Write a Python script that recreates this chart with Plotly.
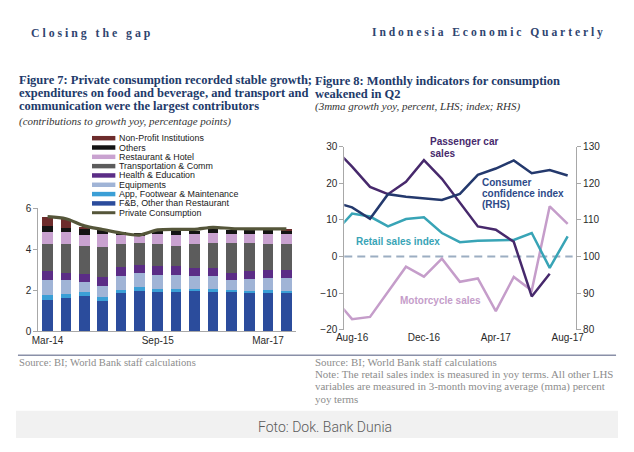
import plotly.graph_objects as go

# The page adds an 8px body margin around the figure, so the figure is sized to
# leave exactly that margin inside the 634x452 window.
PAGE_W, PAGE_H = 634, 452
OFF = 8
W, H = PAGE_W - 2 * OFF, PAGE_H - 2 * OFF


def px(x):
    # x in window pixels -> paper fraction
    return (x - OFF) / W


def py(y):
    # y in window pixels (from top) -> paper fraction
    return 1 - (y - OFF) / H


# ---------------- Figure 7 data (contributions, ppt) ----------------
quarters = ["Mar-14", "Jun-14", "Sep-14", "Dec-14", "Mar-15", "Jun-15", "Sep-15",
            "Dec-15", "Mar-16", "Jun-16", "Sep-16", "Dec-16", "Mar-17", "Jun-17"]
q_ticks = ["Mar-14", "Sep-15", "Mar-17"]
fnb = [1.54, 1.62, 1.73, 1.49, 1.86, 1.98, 1.89, 1.89, 1.94, 1.90, 1.90, 1.86, 1.86, 1.86]
apparel = [0.21, 0.21, 0.17, 0.19, 0.16, 0.16, 0.17, 0.16, 0.12, 0.16, 0.12, 0.12, 0.16, 0.12]
equipments = [0.77, 0.69, 0.51, 0.53, 0.68, 0.70, 0.70, 0.68, 0.62, 0.62, 0.50, 0.59, 0.58, 0.62]
health = [0.40, 0.34, 0.37, 0.44, 0.43, 0.41, 0.40, 0.43, 0.42, 0.42, 0.34, 0.37, 0.37, 0.37]
transport = [1.32, 1.38, 1.38, 1.46, 1.11, 1.04, 1.11, 1.00, 1.17, 1.22, 1.46, 1.38, 1.27, 1.27]
restaurant = [0.63, 0.59, 0.55, 0.64, 0.47, 0.38, 0.48, 0.55, 0.48, 0.47, 0.44, 0.44, 0.51, 0.52]
others = [0.27, 0.23, 0.31, 0.20, 0.16, 0.12, 0.15, 0.19, 0.15, 0.19, 0.19, 0.19, 0.20, 0.12]
npi = [0.45, 0.45, 0.06, 0.00, 0.00, 0.00, 0.00, 0.00, 0.00, 0.00, 0.00, 0.00, 0.00, 0.10]
private_cons = [5.60, 5.50, 5.15, 4.97, 4.80, 4.70, 4.95, 4.98, 4.98, 5.08, 5.02, 5.00, 5.00, 5.00]

# ---------------- Figure 8 data ----------------
months = ["Jul-16", "Aug-16", "Sep-16", "Oct-16", "Nov-16", "Dec-16", "Jan-17",
          "Feb-17", "Mar-17", "Apr-17", "May-17", "Jun-17", "Jul-17", "Aug-17"]
m_ticks = ["Aug-16", "Dec-16", "Apr-17", "Aug-17"]
car_sales = [29.6, 24.5, 19.0, 17.0, 20.4, 26.3, 21.2, 14.6, 8.2, 7.3, 4.0, -10.9, -4.7]
confidence = [114.8, 113.4, 110.3, 117.0, 116.3, 115.8, 115.4, 117.1, 122.3, 124.0,
              126.2, 122.7, 123.6, 122.1]
retail = [6.3, 11.7, 10.9, 8.2, 10.2, 10.7, 6.4, 3.9, 4.3, 4.3, 4.5, 6.4, -3.1, 5.5]
motorcycle = [-11.3, -17.1, -16.5, -9.5, -2.8, -5.5, -0.6, -6.9, -6.0, -14.9, -5.6,
              -9.3, 13.7, 8.9]

# ---------------- colours ----------------
C_FNB = "#2b4c9c"
C_APP = "#3b9fd6"
C_EQUIP = "#a0b4d6"
C_HEALTH = "#5b2d86"
C_TRANS = "#5c5c5c"
C_REST = "#c9a2d0"
C_OTH = "#141414"
C_NPI = "#6d2c2c"
C_PC = "#55563a"

C_CAR = "#47296c"
C_CCI = "#24396d"
C_RET = "#38a4b6"
C_MOTO = "#c59dca"

SANS = "Liberation Sans"
SERIF = "Liberation Serif"
NAVY = "#223a6a"

fig = go.Figure()

bar_series = [
    ("F&B, Other than Restaurant", fnb, C_FNB),
    ("App, Footwear & Maintenance", apparel, C_APP),
    ("Equipments", equipments, C_EQUIP),
    ("Health & Education", health, C_HEALTH),
    ("Transportation & Comm", transport, C_TRANS),
    ("Restaurant & Hotel", restaurant, C_REST),
    ("Others", others, C_OTH),
    ("Non-Profit Institutions", npi, C_NPI),
]
for name, vals, col in bar_series:
    fig.add_trace(go.Bar(x=quarters, y=vals, name=name, marker=dict(color=col, line=dict(width=0)),
                         xaxis="x", yaxis="y", showlegend=False))

fig.add_trace(go.Scatter(x=quarters, y=private_cons, mode="lines", name="Private Consumption",
                         line=dict(color=C_PC, width=3.2, shape="spline", smoothing=0.8),
                         xaxis="x", yaxis="y", showlegend=False))

# right chart
fig.add_trace(go.Scatter(x=months, y=motorcycle, mode="lines", name="Motorcycle sales",
                         line=dict(color=C_MOTO, width=2.5), xaxis="x2", yaxis="y2", showlegend=False))
fig.add_trace(go.Scatter(x=months, y=retail, mode="lines", name="Retail sales index",
                         line=dict(color=C_RET, width=2.5), xaxis="x2", yaxis="y2", showlegend=False))
fig.add_trace(go.Scatter(x=months, y=confidence, mode="lines", name="Consumer confidence index (RHS)",
                         line=dict(color=C_CCI, width=2.5), xaxis="x2", yaxis="y3", showlegend=False))
fig.add_trace(go.Scatter(x=months[:len(car_sales)], y=car_sales, mode="lines", name="Passenger car sales",
                         line=dict(color=C_CAR, width=2.5), xaxis="x2", yaxis="y2", showlegend=False))

tickfont = dict(family=SANS, size=10, color="#2a2a2a")
axcol = "#a8a8a8"

fig.update_layout(
    width=W, height=H,
    margin=dict(l=0, r=0, t=0, b=0),
    paper_bgcolor="white", plot_bgcolor="rgba(0,0,0,0)",
    barmode="stack", bargap=0.42,
    showlegend=False,
    xaxis=dict(domain=[px(31), px(295)], anchor="y", type="category", categoryarray=quarters,
               range=[-0.5, 13.5], tickvals=q_ticks, ticktext=q_ticks, ticks="",
               showline=True, linecolor=axcol, linewidth=1, showgrid=False, zeroline=False,
               tickfont=tickfont),
    yaxis=dict(domain=[py(334), py(208)], anchor="x", range=[0, 6], tickvals=[0, 2, 4, 6],
               showline=True, linecolor=axcol, linewidth=1, ticks="outside", ticklen=4,
               tickcolor=axcol, showgrid=False, zeroline=False, tickfont=tickfont),
    xaxis2=dict(domain=[px(345), px(583)], anchor="y2", type="category", categoryarray=months,
                range=[0.566, 13.47], tickvals=m_ticks, ticktext=m_ticks, ticks="",
                showline=False, showgrid=False, zeroline=False, tickfont=tickfont),
    yaxis2=dict(domain=[py(332.7), py(144.3)], anchor="x2", range=[-20, 30], dtick=10,
                showline=True, linecolor=axcol, linewidth=1, ticks="outside", ticklen=4,
                tickcolor=axcol, showgrid=False, zeroline=False, tickfont=tickfont),
    yaxis3=dict(anchor="x2", overlaying="y2", side="right", range=[80, 130], dtick=10,
                showline=True, linecolor=axcol, linewidth=1, ticks="outside", ticklen=4,
                tickcolor=axcol, showgrid=False, zeroline=False, tickfont=tickfont),
)

shapes = []
# dashed zero line on Figure 8
shapes.append(dict(type="line", xref="x2 domain", yref="y2", x0=0, x1=0.985, y0=0, y1=0,
                   line=dict(color="#9caec2", width=2, dash="8px,5px"), layer="below"))
# separator line
shapes.append(dict(type="line", xref="paper", yref="paper", x0=px(10), x1=px(624),
                   y0=py(359), y1=py(359), line=dict(color="#8a90a8", width=1.5)))
# bottom caption band
shapes.append(dict(type="rect", xref="paper", yref="paper", x0=0, x1=1, y0=0, y1=py(416),
                   fillcolor="#f1f1f1", line=dict(width=0), layer="below"))

annotations = []


def text(x, y, s, size, color, family=SANS, weight="normal", style="normal", xanchor="left",
         yanchor="middle"):
    annotations.append(dict(x=px(x), y=py(y), xref="paper", yref="paper", text=s, showarrow=False,
                            xanchor=xanchor, yanchor=yanchor, align="left", borderpad=0,
                            font=dict(family=family, size=size, color=color, weight=weight, style=style)))


def block(lines, size_px):
    # glyphs at size_px; the annotation's base size sets the (tighter) line spacing
    return "<br>".join("<span style='font-size:%spx'>%s</span>" % (size_px, ln) for ln in lines)


# legend of Figure 7 (drawn compactly as in the original)
legend_rows = [
    ("Non-Profit Institutions", C_NPI, "bar"),
    ("Others", C_OTH, "bar"),
    ("Restaurant & Hotel", C_REST, "bar"),
    ("Transportation & Comm", C_TRANS, "bar"),
    ("Health & Education", C_HEALTH, "bar"),
    ("Equipments", C_EQUIP, "bar"),
    ("App, Footwear & Maintenance", C_APP, "bar"),
    ("F&B, Other than Restaurant", C_FNB, "bar"),
    ("Private Consumption", C_PC, "line"),
]
y0 = 135.7
for i, (lab, col, kind) in enumerate(legend_rows):
    yy = y0 + i * 9.58
    if kind == "bar":
        shapes.append(dict(type="rect", xref="paper", yref="paper", x0=px(86), x1=px(110),
                           y0=py(yy + 2.3), y1=py(yy - 2.3), fillcolor=col, line=dict(width=0)))
    else:
        shapes.append(dict(type="line", xref="paper", yref="paper", x0=px(86), x1=px(110),
                           y0=py(yy), y1=py(yy), line=dict(color=col, width=3)))
    text(113, yy, lab, 8.9, "#1a1a1a")

# series labels Figure 8
text(431.5, 145.5, block(["Passenger car", "sales"], 10), 9.3, C_CAR, weight="bold")
text(485.5, 192.5, block(["Consumer", "confidence index", "(RHS)"], 10), 8.6, "#2d4a88", weight="bold")
text(356.5, 242, "Retail sales index", 10, C_RET, weight="bold")
text(401.5, 302.5, "Motorcycle sales", 10, C_MOTO, weight="bold")

# page header (letter-spaced)
NB = "\u00a0"


def spaced(s):
    words = s.split(" ")
    return (NB * 3).join(NB.join(list(w)) for w in words)


text(22, 27.3, spaced("Closing the gap"), 11.8, "#2f4570", family=SERIF, weight="bold")
text(612, 27.3, spaced("Indonesia Economic Quarterly"), 11.6, "#2f4570", family=SERIF, weight="bold",
     xanchor="right")

# figure titles
text(10, 89.5, block(["Figure 7: Private consumption recorded stable growth;",
                      "expenditures on food and beverage, and transport and",
                      "communication were the largest contributors"], 12.5),
     10, NAVY, family=SERIF, weight="bold")
text(10, 118.3, "(contributions to growth yoy, percentage points)", 11, "#333333", family=SERIF,
     style="italic")

text(314, 83.1, block(["Figure 8: Monthly indicators for consumption", "weakened in Q2"], 12.5),
     10, NAVY, family=SERIF, weight="bold")
text(314, 103.5, "(3mma growth yoy, percent, LHS; index; RHS)", 11, "#333333", family=SERIF,
     style="italic")

# footers
FG = "#8c8c8c"
text(10, 366.5, "Source: BI; World Bank staff calculations", 10.6, FG, family=SERIF)
text(314, 384.8, block(["Source: BI; World Bank staff calculations",
                        "Note: The retail sales index is measured in yoy terms. All other LHS",
                        "variables are measured in 3-month moving average (mma) percent",
                        "yoy terms"], 10.9), 9.4, FG, family=SERIF)

# caption band text
annotations.append(dict(x=px(325), y=py(433), xref="paper", yref="paper", text="Foto: Dok. Bank Dunia",
                        showarrow=False, xanchor="center", yanchor="middle",
                        font=dict(family="Roboto", size=14, color="#5a5a5a", weight=300)))

fig.update_layout(shapes=shapes, annotations=annotations)
fig.write_html("out.html", config={"displayModeBar": False})
